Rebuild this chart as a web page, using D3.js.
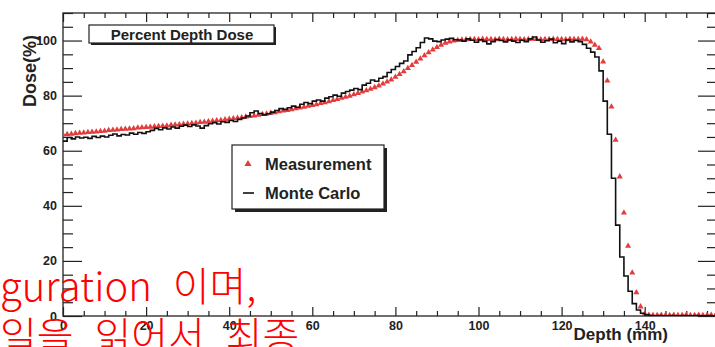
<!DOCTYPE html>
<html>
<head>
<meta charset="utf-8">
<script src="https://cdn.jsdelivr.net/npm/d3@7"></script>
<style>
  html, body { margin: 0; padding: 0; background: #fff; }
  svg { display: block; font-family: "Liberation Sans", Arial, Helvetica, sans-serif; }
</style>
</head>
<body>
<div class="pdd-container"></div>
<script>
// depth in mm, one measurement point per mm (0..157)
const measurement = [
  65.8, 66.0, 66.1, 66.3, 66.4, 66.5, 66.7, 66.8, 66.9, 67.1,
  67.2, 67.4, 67.5, 67.6, 67.8, 67.9, 68.0, 68.1, 68.3, 68.4,
  68.5, 68.6, 68.8, 68.9, 69.0, 69.1, 69.3, 69.4, 69.5, 69.7,
  69.8, 70.0, 70.1, 70.3, 70.4, 70.6, 70.8, 71.0, 71.1, 71.3,
  71.5, 71.7, 71.9, 72.1, 72.3, 72.5, 72.7, 73.0, 73.2, 73.4,
  73.7, 73.9, 74.2, 74.5, 74.7, 75.0, 75.3, 75.6, 75.9, 76.2,
  76.5, 76.8, 77.2, 77.5, 77.9, 78.3, 78.7, 79.1, 79.5, 79.9,
  80.4, 80.9, 81.4, 81.9, 82.4, 83.0, 83.6, 84.3, 85.0, 85.8,
  86.8, 87.8, 88.8, 89.9, 91.0, 92.2, 93.4, 94.6, 95.7, 96.7,
  97.6, 98.4, 99.1, 99.6, 99.9, 100.1, 100.3, 100.4, 100.5, 100.5,
  100.4, 100.6, 100.5, 100.5, 100.4, 100.6, 100.5, 100.4, 100.5, 100.6,
  100.5, 100.4, 100.5, 100.6, 100.5, 100.4, 100.5, 100.5, 100.6, 100.5,
  100.5, 100.4, 100.6, 100.5, 100.5, 100.6, 100.4, 99.6, 98.4, 97.2,
  92.3, 85.4, 76.0, 63.9, 50.6, 37.5, 25.4, 15.7, 8.5, 3.4,
  0.8, 0.4, 0.3, 0.3, 0.4, 0.3, 0.3, 0.4, 0.3, 0.3,
  0.4, 0.3, 0.3, 0.4, 0.3, 0.3, 0.4, 0.3
];

// Monte Carlo histogram, 1 mm bins starting at 0 mm
const monteCarlo = [
  63.5, 64.8, 64.3, 65.0, 64.6, 64.9, 64.5, 65.2, 64.8, 65.3,
  65.0, 65.6, 66.1, 65.4, 65.9, 65.7, 66.4, 66.0, 66.6, 66.3,
  66.9, 67.4, 68.1, 67.6, 68.3, 67.9, 68.6, 68.2, 68.9, 69.3,
  68.8, 69.4, 69.0, 68.2, 69.1, 69.8, 70.2, 69.7, 70.5, 70.3,
  71.0, 70.6, 71.4, 71.9, 72.6, 73.8, 74.4, 73.5, 73.0, 73.4,
  74.0, 74.6, 75.3, 75.0, 75.6, 76.2, 75.8, 76.9, 77.5, 77.1,
  78.0, 78.4, 78.0, 79.1, 79.6, 80.2, 79.8, 80.9, 81.5, 82.0,
  82.6, 82.2, 83.8, 84.5, 85.7, 85.2, 86.3, 86.9, 88.4, 89.5,
  90.6, 91.7, 92.6, 94.8, 96.0, 97.4, 99.3, 100.9, 100.6, 99.8,
  99.6, 100.2, 100.5, 100.8, 100.3, 100.2, 99.8, 100.6, 100.1, 99.4,
  100.3, 99.7, 98.8, 99.6, 100.4, 100.0, 99.5, 100.2, 99.8, 99.3,
  100.1, 99.6, 100.6, 101.3, 100.2, 99.4, 99.9, 100.5, 99.2, 99.8,
  98.9, 100.2, 99.5, 100.0, 99.6, 98.6, 97.2, 95.8, 94.0, 89.0,
  78.0, 66.0, 50.0, 33.0, 21.4, 14.5, 9.0, 4.5, 2.2, 1.0,
  0.4, 0.2, 0.1, 0.2, 0.1, 0.1, 0.2, 0.1, 0.1, 0.2,
  0.1, 0.1, 0.2, 0.1, 0.1, 0.2, 0.1, 0.1
];
const mcBinWidth = 1;

const xMajorTicks = [0, 20, 40, 60, 80, 100, 120, 140];
const yMajorTicks = [0, 20, 40, 60, 80, 100];
const minorStep = 5;

const chartTitle = 'Percent Depth Dose';
const xAxisLabel = 'Depth (mm)';
const yAxisLabel = 'Dose(%)';
const legendLabels = ['Measurement', 'Monte Carlo'];
const overlayLines = ['guration 이며,', '일을 읽어서 최종'];

const width = 715;
const height = 347;
const margin = { top: 13, bottom: 31, left: 63, right: -2 };
const red = '#e23c3c';
const ink = '#222';

const svg = d3.select('.pdd-container')
  .append('svg')
  .attr('width', width)
  .attr('height', height)
  .attr('xmlns', 'http://www.w3.org/2000/svg');

const xScale = d3.scaleLinear()
  .domain([0, 157.4])
  .range([margin.left, width - margin.right]);
const yScale = d3.scaleLinear()
  .domain([0, 110])
  .range([height - margin.bottom, margin.top]);

const x0 = xScale.range()[0], x1 = xScale.range()[1];
const y0 = yScale.range()[0], y1 = yScale.range()[1];

svg.append('defs').append('clipPath')
  .attr('id', 'plot-clip')
  .append('rect')
  .attr('x', x0).attr('y', y1 - 3)
  .attr('width', x1 - x0).attr('height', y0 - y1 + 3);

const xMinor = d3.range(0, 157.4, minorStep).filter(v => v % 20 !== 0);
const yMinor = d3.range(0, 110.1, minorStep).filter(v => v % 20 !== 0);

function styleAxis(g) {
  g.selectAll('path').attr('stroke', 'none');
  g.selectAll('line').attr('stroke', ink).attr('stroke-width', 1.2);
  g.selectAll('text')
    .attr('fill', ink)
    .attr('font-size', 12.5)
    .attr('font-weight', 700);
}

// bottom axis
svg.append('g')
  .attr('transform', `translate(0, ${y0})`)
  .call(d3.axisBottom(xScale).tickValues(xMajorTicks).tickSize(-9).tickPadding(5))
  .call(styleAxis);
svg.append('g')
  .attr('transform', `translate(0, ${y0})`)
  .call(d3.axisBottom(xScale).tickValues(xMinor).tickSize(-5).tickFormat(''))
  .call(styleAxis);

// top axis (mirror)
svg.append('g')
  .attr('transform', `translate(0, ${y1})`)
  .call(d3.axisTop(xScale).tickValues(xMajorTicks).tickSize(-9).tickFormat(''))
  .call(styleAxis);
svg.append('g')
  .attr('transform', `translate(0, ${y1})`)
  .call(d3.axisTop(xScale).tickValues(xMinor).tickSize(-5).tickFormat(''))
  .call(styleAxis);

// left axis
svg.append('g')
  .attr('transform', `translate(${x0}, 0)`)
  .call(d3.axisLeft(yScale).tickValues(yMajorTicks).tickSize(-19).tickPadding(6))
  .call(styleAxis);
svg.append('g')
  .attr('transform', `translate(${x0}, 0)`)
  .call(d3.axisLeft(yScale).tickValues(yMinor).tickSize(-10).tickFormat(''))
  .call(styleAxis);

// right axis (mirror)
svg.append('g')
  .attr('transform', `translate(${x1}, 0)`)
  .call(d3.axisRight(yScale).tickValues(yMajorTicks).tickSize(-19).tickFormat(''))
  .call(styleAxis);
svg.append('g')
  .attr('transform', `translate(${x1}, 0)`)
  .call(d3.axisRight(yScale).tickValues(yMinor).tickSize(-10).tickFormat(''))
  .call(styleAxis);

// frame
svg.append('rect')
  .attr('x', x0).attr('y', y1)
  .attr('width', x1 - x0).attr('height', y0 - y1)
  .attr('fill', 'none')
  .attr('stroke', ink)
  .attr('stroke-width', 1.3);

// axis titles
svg.append('text')
  .attr('x', 668).attr('y', 340)
  .attr('text-anchor', 'end')
  .attr('font-size', 17)
  .attr('font-weight', 700)
  .attr('fill', ink)
  .text(xAxisLabel);
svg.append('text')
  .attr('transform', 'translate(36, 71) rotate(-90)')
  .attr('text-anchor', 'middle')
  .attr('font-size', 18)
  .attr('font-weight', 700)
  .attr('fill', ink)
  .text(yAxisLabel);

// data
const plot = svg.append('g').attr('clip-path', 'url(#plot-clip)');
const triangle = d3.symbol().type(d3.symbolTriangle).size(16);

plot.append('g')
  .attr('class', 'measurement')
  .selectAll('path')
  .data(measurement)
  .join('path')
  .attr('d', triangle)
  .attr('fill', red)
  .attr('transform', (d, i) => `translate(${xScale(i)}, ${yScale(d)})`);

const mcPoints = monteCarlo.map((v, i) => [i * mcBinWidth, v]);
mcPoints.push([monteCarlo.length * mcBinWidth, monteCarlo[monteCarlo.length - 1]]);
plot.append('path')
  .datum(mcPoints)
  .attr('fill', 'none')
  .attr('stroke', '#111')
  .attr('stroke-width', 1.6)
  .attr('d', d3.line()
    .curve(d3.curveStepAfter)
    .x(d => xScale(d[0]))
    .y(d => yScale(d[1])));

// title box
const titleBox = svg.append('g').attr('class', 'title-container');
titleBox.append('rect')
  .attr('x', 91).attr('y', 27).attr('width', 185).attr('height', 18)
  .attr('fill', ink);
titleBox.append('rect')
  .attr('x', 89).attr('y', 25).attr('width', 185).attr('height', 18)
  .attr('fill', '#fff').attr('stroke', ink).attr('stroke-width', 1.2);
titleBox.append('text')
  .attr('x', 182).attr('y', 39.5)
  .attr('text-anchor', 'middle')
  .attr('font-size', 15)
  .attr('font-weight', 700)
  .attr('fill', ink)
  .text(chartTitle);

// legend
const legend = svg.append('g').attr('class', 'legend-container');
legend.append('rect')
  .attr('x', 235).attr('y', 148).attr('width', 152).attr('height', 64)
  .attr('fill', ink);
legend.append('rect')
  .attr('x', 232).attr('y', 145).attr('width', 152).attr('height', 64)
  .attr('fill', '#fff').attr('stroke', ink).attr('stroke-width', 1.2);
legend.append('path')
  .attr('d', d3.symbol().type(d3.symbolTriangle).size(22))
  .attr('fill', red)
  .attr('transform', 'translate(248, 164)');
legend.append('line')
  .attr('x1', 243).attr('x2', 254).attr('y1', 193).attr('y2', 193)
  .attr('stroke', '#111').attr('stroke-width', 1.6);
legend.selectAll('text.entry')
  .data(legendLabels)
  .join('text')
  .attr('class', 'entry')
  .attr('x', 265)
  .attr('y', (d, i) => 170 + i * 29)
  .attr('font-size', 16.5)
  .attr('font-weight', 700)
  .attr('fill', ink)
  .text(d => d);

// red text overlaid on the picture
svg.append('g')
  .selectAll('text')
  .data(overlayLines)
  .join('text')
  .attr('x', 0)
  .attr('y', (d, i) => 301 + i * 50)
  .attr('font-family', '"Noto Sans CJK KR", "Noto Sans", sans-serif')
  .attr('font-size', 40)
  .attr('font-weight', 300)
  .attr('word-spacing', 12)
  .attr('fill', '#ff0000')
  .text(d => d);
</script>
</body>
</html>
